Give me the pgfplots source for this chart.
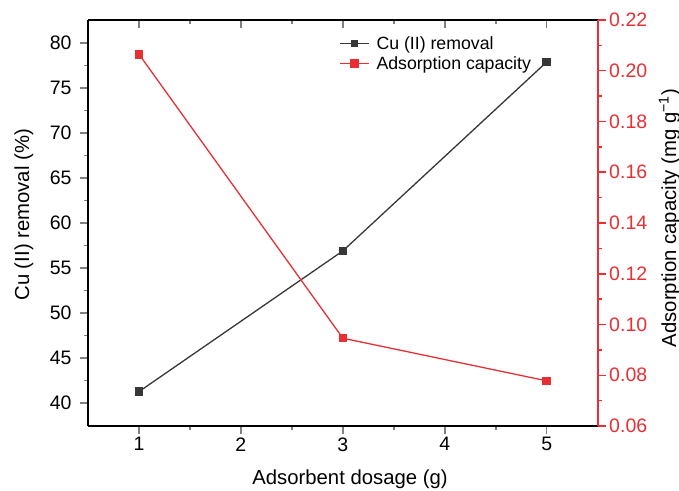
\documentclass[border=0pt]{standalone}
\usepackage{pgfplots}
\pgfplotsset{compat=1.18}
\usepackage{fontspec}
\setmainfont{Liberation Sans}
\definecolor{myred}{RGB}{232,48,52}
\definecolor{mygray}{RGB}{55,55,55}
\begin{document}
\begin{tikzpicture}
\useasboundingbox (0pt,0pt) rectangle (679pt,490pt);
\pgfplotsset{
  base/.style={
    at={(88pt,64pt)}, anchor=south west,
    scale only axis, width=509.7pt, height=406pt,
    xmin=0.5, xmax=5.5,
    xtick={1,2,3,4,5}, minor x tick num=1,
    major tick length=8pt, minor tick length=4pt,
    tick style={line width=1.5pt},
    axis line style={line width=1.7pt},
    tick label style={font=\fontsize{19.5}{22}\selectfont},
    label style={font=\fontsize{20.3}{23}\selectfont},
    /pgf/number format/assume math mode=true,
  },
}
% left axis + bottom
\begin{axis}[base,
  axis x line*=bottom, axis y line*=left,
  tick align=outside,
  ymin=37.44, ymax=82.56,
  ytick={40,45,...,80}, minor y tick num=1,
  yticklabel style={xshift=-5pt},
  xlabel={Adsorbent dosage (g)},
  ylabel={Cu (II) removal (\%)},
  xlabel style={at={(axis description cs:0.514,-0.132)}, anchor=center},
  ylabel style={at={(axis description cs:-0.1256,0.52)}, anchor=center, rotate=0},
]
\addplot[mygray, line width=1.3pt, mark=square*, mark size=3.6pt, mark options={solid}] coordinates {(1,41.26) (3,56.9) (5,77.9)};
\end{axis}
% top line
\begin{axis}[base,
  axis x line*=top, axis y line=none,
  tick align=inside,
  xticklabels={},
  ymin=0, ymax=1,
]
\end{axis}
% right axis
\begin{axis}[base,
  axis x line=none, axis y line*=right,
  tick align=outside,
  ymin=0.06, ymax=0.22,
  ytick={0.06,0.08,...,0.22}, minor y tick num=1,
  yticklabel style={/pgf/number format/fixed, /pgf/number format/fixed zerofill, /pgf/number format/precision=2, color=myred},
  y axis line style={myred},
  ytick style={myred},
  ylabel={Adsorption capacity (mg g\textsuperscript{−1})},
  ylabel style={at={(axis description cs:1.141,0.512)}, anchor=center, rotate=0},
  legend style={at={(axis description cs:0.4905,0.968)}, anchor=north west, draw=none, fill=none,
    font=\fontsize{17.7}{20}\selectfont, row sep=2pt, column sep=5pt, inner sep=1pt},
  legend cell align=left,
  legend image code/.code={\draw[mark repeat=2,mark phase=2,#1] plot coordinates {(0pt,0pt) (14.5pt,0pt) (29pt,0pt)};},
]
\addlegendimage{mygray, line width=1.3pt, mark=square*, mark size=3pt}
\addlegendentry{Cu (II) removal}
\addplot[myred, line width=1.3pt, mark=square*, mark size=3.6pt] coordinates {(1,0.2065) (3,0.0946) (5,0.0778)};
\addlegendentry{Adsorption capacity}
\end{axis}
\end{tikzpicture}
\end{document}
